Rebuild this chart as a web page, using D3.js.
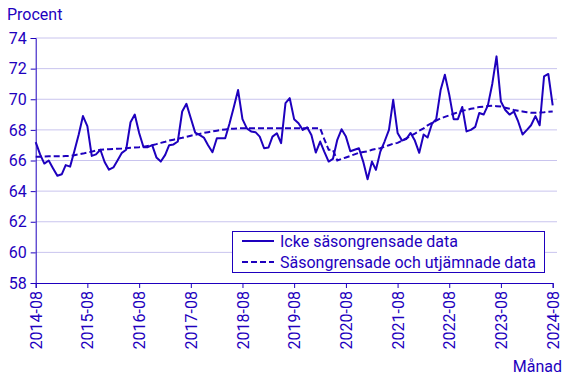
<!DOCTYPE html>
<html>
<head>
<meta charset="utf-8">
<script src="https://cdn.jsdelivr.net/npm/d3@7"></script>
<style>
  body { margin: 0; background: #fff; }
  svg { display: block; font-family: Roboto, sans-serif; }
</style>
</head>
<body>
<svg id="chart" width="568" height="379"></svg>
<script>
const width = 568;
const height = 379;
const blue = '#1e00be';

// monthly, 2014-08 .. 2024-08
const startMonth = new Date(2014, 7, 1);
const endMonth = new Date(2024, 7, 1);

const raw = [
  67.2, 66.4, 65.8, 66.0, 65.5, 65.0, 65.1, 65.7, 65.6, 66.6, 67.7, 68.9,
  68.25, 66.3, 66.4, 66.7, 65.9, 65.4, 65.55, 66.0, 66.5, 66.7, 68.5, 69.0,
  67.8, 66.87, 66.87, 67.0, 66.2, 65.93, 66.37, 67.0, 67.05, 67.24, 69.2, 69.7,
  68.76, 67.82, 67.67, 67.5, 67.0, 66.54, 67.45, 67.45, 67.45, 68.4, 69.5, 70.6,
  68.7, 68.1, 67.9, 67.85, 67.56, 66.8, 66.85, 67.56, 67.78, 67.13, 69.74, 70.07,
  68.7, 68.43, 68.0, 68.17, 67.67, 66.52, 67.24, 66.58, 65.93, 66.1, 67.35, 68.04,
  67.56, 66.6, 66.7, 66.8, 65.93, 64.78, 65.93, 65.39, 66.58, 67.24, 68.0, 69.96,
  67.8, 67.3, 67.4, 67.8, 67.3, 66.5, 67.7, 67.5, 68.4, 68.7, 70.6, 71.6,
  70.3, 68.7, 68.7, 69.5, 67.9, 68.0, 68.2, 69.1, 69.0, 69.6, 71.0, 72.8,
  69.85, 69.3, 69.0, 69.2, 68.55, 67.7, 68.0, 68.3, 68.9, 68.3, 71.5, 71.65,
  69.6
];

const smoothed = [
  66.25, 66.25, 66.26, 66.27, 66.27, 66.28, 66.28, 66.29, 66.3, 66.35, 66.4, 66.45,
  66.52, 66.58, 66.65, 66.7, 66.72, 66.74, 66.75, 66.77, 66.78, 66.8, 66.83, 66.85,
  66.87, 66.9, 66.95, 67.0, 67.07, 67.15, 67.22, 67.3, 67.36, 67.42, 67.48, 67.55,
  67.62, 67.68, 67.74, 67.8, 67.85, 67.9, 67.95, 68.0, 68.03, 68.06, 68.08, 68.1,
  68.1, 68.1, 68.1, 68.1, 68.1, 68.1, 68.1, 68.1, 68.1, 68.1, 68.1, 68.1,
  68.1, 68.1, 68.1, 68.1, 68.1, 68.1, 68.1, 67.4, 66.7, 66.7, 66.0, 66.1,
  66.2, 66.3, 66.4, 66.5, 66.55, 66.6, 66.7, 66.75, 66.8, 66.9, 67.0, 67.1,
  67.15, 67.3, 67.45, 67.6, 67.75, 67.95, 68.1, 68.3, 68.45, 68.6, 68.75, 68.85,
  68.95, 69.05, 69.15, 69.25, 69.3, 69.38, 69.43, 69.5, 69.52, 69.56, 69.58, 69.55,
  69.52, 69.45, 69.38, 69.3, 69.25, 69.2, 69.15, 69.12, 69.12, 69.13, 69.15, 69.18,
  69.2
];

const yTicks = [58, 60, 62, 64, 66, 68, 70, 72, 74];
const xTickYears = d3.range(2014, 2025);
const seriesNames = ['Icke säsongrensade data', 'Säsongrensade och utjämnade data'];

const months = d3.timeMonth.range(startMonth, d3.timeMonth.offset(endMonth, 1));

const svg = d3.select('#chart');

const x = d3.scaleTime()
  .domain([startMonth, endMonth])
  .range([35.7, 552.7]);

const y = d3.scaleLinear()
  .domain([58, 74])
  .range([283, 38]);

// grid
svg.append('g')
  .selectAll('line')
  .data(yTicks.slice(1))
  .enter()
  .append('line')
  .attr('x1', 35.7)
  .attr('x2', 557)
  .attr('y1', (d) => y(d))
  .attr('y2', (d) => y(d))
  .attr('stroke', '#c9c4ee')
  .attr('stroke-width', 1);

// y axis
const yAxis = svg.append('g')
  .attr('transform', 'translate(35.7,0)')
  .call(d3.axisLeft(y).tickValues(yTicks).tickSize(5).tickPadding(4).tickFormat(d3.format('d')));
yAxis.select('.domain').attr('stroke', blue);
yAxis.selectAll('.tick line').attr('stroke', blue);
yAxis.selectAll('.tick text')
  .attr('fill', blue)
  .attr('font-size', 16)
  .attr('font-family', 'Roboto, sans-serif');

// x axis
const xAxis = svg.append('g')
  .attr('transform', 'translate(0,283)')
  .call(d3.axisBottom(x)
    .tickValues(xTickYears.map((yr) => new Date(yr, 7, 1)))
    .tickSize(5)
    .tickFormat(d3.timeFormat('%Y-%m')));
xAxis.select('.domain').attr('stroke', blue);
xAxis.selectAll('.tick line').attr('stroke', blue);
xAxis.selectAll('.tick text')
  .attr('fill', blue)
  .attr('font-size', 16)
  .attr('font-family', 'Roboto, sans-serif')
  .attr('text-anchor', 'end')
  .attr('dy', '0.35em')
  .attr('transform', 'translate(0,4) rotate(-90)')
  .attr('x', -4)
  .attr('y', 0);

// axis titles
svg.append('text')
  .attr('x', 7)
  .attr('y', 20)
  .attr('fill', blue)
  .attr('font-size', 16)
  .text('Procent');

svg.append('text')
  .attr('x', 562)
  .attr('y', 372)
  .attr('text-anchor', 'end')
  .attr('fill', blue)
  .attr('font-size', 16)
  .text('Månad');

// lines
const line = d3.line()
  .x((d, i) => x(months[i]))
  .y((d) => y(d));

svg.append('path')
  .attr('d', line(smoothed))
  .attr('fill', 'none')
  .attr('stroke', blue)
  .attr('stroke-width', 2)
  .attr('stroke-dasharray', '6,3');

svg.append('path')
  .attr('d', line(raw))
  .attr('fill', 'none')
  .attr('stroke', blue)
  .attr('stroke-width', 2)
  .attr('stroke-linejoin', 'round');

// legend
const legend = svg.append('g');
legend.append('rect')
  .attr('x', 232.5)
  .attr('y', 231.5)
  .attr('width', 312)
  .attr('height', 41)
  .attr('fill', '#fff')
  .attr('stroke', blue)
  .attr('stroke-width', 1);

seriesNames.forEach((name, i) => {
  const ly = 241 + i * 21;
  legend.append('line')
    .attr('x1', 242)
    .attr('x2', 274)
    .attr('y1', ly)
    .attr('y2', ly)
    .attr('stroke', blue)
    .attr('stroke-width', 2)
    .attr('stroke-dasharray', i === 0 ? null : '6,3');
  legend.append('text')
    .attr('x', 280)
    .attr('y', ly)
    .attr('dy', '0.35em')
    .attr('fill', blue)
    .attr('font-size', 16)
    .text(name);
});
</script>
</body>
</html>
